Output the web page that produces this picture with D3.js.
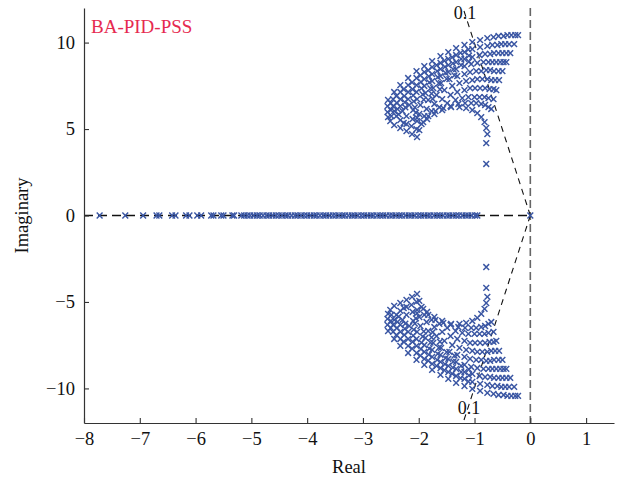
<!DOCTYPE html>
<html>
<head>
<meta charset="utf-8">
<script src="https://cdn.jsdelivr.net/npm/d3@7"></script>
<style>
  html, body { margin: 0; padding: 0; background: #ffffff; }
  svg { display: block; }
  text { font-family: "Liberation Serif", "DejaVu Serif", serif; }
</style>
</head>
<body>
<svg id="chart" width="626" height="483"></svg>
<script>
// ---------------- data ----------------
const title = "BA-PID-PSS";
const xLabel = "Real";
const yLabel = "Imaginary";
const xTicks = [-8, -7, -6, -5, -4, -3, -2, -1, 0, 1];
const yTicks = [-10, -5, 0, 5, 10];
const xDomain = [-8, 1.5];
const yDomain = [-12, 12];
const dampingRatio = 0.1;
const dampingLabel = "0.1";

// Real eigenvalues (imaginary part = 0)
const realPolesSparse = [-7.72, -7.26, -6.94, -6.70, -6.65, -6.42, -6.36, -6.17, -6.11,
  -5.97, -5.90, -5.72, -5.68, -5.54, -5.50, -5.34, -5.31];
const realPolesDense = [-5.18, -5.13, -5.07, -5.02, -4.96, -4.90, -4.85, -4.79, -4.73, -4.68,
  -4.62, -4.56, -4.51, -4.45, -4.39, -4.34, -4.28, -4.22, -4.17, -4.11, -4.05, -4.00, -3.94,
  -3.88, -3.83, -3.77, -3.71, -3.66, -3.60, -3.54, -3.49, -3.43, -3.37, -3.32, -3.26, -3.20,
  -3.15, -3.09, -3.03, -2.98, -2.92, -2.86, -2.81, -2.75, -2.69, -2.64, -2.58, -2.52, -2.47,
  -2.41, -2.35, -2.30, -2.24, -2.18, -2.13, -2.07, -2.01, -1.96, -1.90, -1.84, -1.79, -1.73,
  -1.67, -1.62, -1.56, -1.50, -1.45, -1.39, -1.33, -1.28, -1.22, -1.16, -1.11, -1.05, -0.99, -0.95];
const originPoles = [0];

// Complex eigenvalues, upper half-plane [re, im]; the lower half are their conjugates
const arc0 = [[-2.55,6.68],[-2.44,7.14],[-2.33,7.54],[-2.19,7.95],[-2.04,8.35],[-1.90,8.64],[-1.76,8.93],[-1.61,9.22],[-1.47,9.45],[-1.33,9.68],[-1.18,9.86],[-1.04,10.03],[-0.90,10.14],[-0.77,10.26],[-0.66,10.32],[-0.57,10.38],[-0.48,10.38],[-0.41,10.43],[-0.34,10.43],[-0.27,10.43],[-0.22,10.43]];
const arc1 = [[-2.56,6.33],[-2.46,6.73],[-2.33,7.14],[-2.19,7.54],[-2.04,7.95],[-1.90,8.29],[-1.76,8.58],[-1.61,8.82],[-1.47,9.05],[-1.33,9.28],[-1.18,9.45],[-1.04,9.62],[-0.90,9.74],[-0.77,9.80],[-0.68,9.86],[-0.59,9.86],[-0.52,9.91],[-0.45,9.91],[-0.38,9.91],[-0.29,9.91]];
const arc2 = [[-2.56,5.98],[-2.46,6.33],[-2.33,6.73],[-2.19,7.14],[-2.04,7.54],[-1.90,7.89],[-1.76,8.18],[-1.61,8.47],[-1.47,8.70],[-1.33,8.87],[-1.18,9.05],[-1.04,9.16],[-0.91,9.28],[-0.81,9.34],[-0.72,9.34],[-0.65,9.39],[-0.57,9.39],[-0.50,9.39],[-0.43,9.39],[-0.36,9.39]];
const arc3 = [[-2.55,5.69],[-2.44,6.04],[-2.33,6.33],[-2.19,6.73],[-2.04,7.14],[-1.90,7.49],[-1.76,7.77],[-1.61,8.06],[-1.47,8.29],[-1.33,8.47],[-1.18,8.64],[-1.06,8.76],[-0.95,8.82],[-0.84,8.87],[-0.75,8.87],[-0.68,8.87],[-0.61,8.87],[-0.54,8.87],[-0.48,8.87],[-0.43,8.87]];
const arc4 = [[-2.51,5.46],[-2.40,5.75],[-2.29,6.04],[-2.17,6.39],[-2.03,6.73],[-1.88,7.08],[-1.74,7.37],[-1.60,7.66],[-1.45,7.89],[-1.31,8.06],[-1.18,8.18],[-1.08,8.29],[-0.97,8.35],[-0.88,8.35],[-0.79,8.41],[-0.72,8.41],[-0.65,8.35],[-0.57,8.35],[-0.50,8.35]];
const arc5 = [[-2.44,5.23],[-2.33,5.52],[-2.22,5.75],[-2.10,6.10],[-1.97,6.39],[-1.83,6.68],[-1.68,6.97],[-1.54,7.25],[-1.40,7.49],[-1.27,7.66],[-1.15,7.77],[-1.04,7.83],[-0.95,7.89],[-0.86,7.89],[-0.77,7.89],[-0.70,7.83],[-0.63,7.83],[-0.56,7.83]];
const arc6 = [[-2.33,5.06],[-2.22,5.29],[-2.11,5.58],[-1.99,5.87],[-1.86,6.16],[-1.72,6.45],[-1.58,6.73],[-1.43,6.97],[-1.31,7.14],[-1.18,7.25],[-1.08,7.37],[-0.99,7.37],[-0.90,7.37],[-0.81,7.37],[-0.73,7.31],[-0.66,7.31],[-0.61,7.25]];
const arc7 = [[-2.22,4.88],[-2.13,5.17],[-2.03,5.46],[-1.90,5.75],[-1.77,6.04],[-1.63,6.27],[-1.49,6.50],[-1.34,6.68],[-1.22,6.79],[-1.11,6.85],[-1.00,6.85],[-0.91,6.85],[-0.82,6.85],[-0.75,6.79],[-0.66,6.73]];
const arc8 = [[-2.12,4.71],[-2.04,5.00],[-1.95,5.29],[-1.85,5.58],[-1.72,5.87],[-1.58,6.10],[-1.43,6.33],[-1.29,6.45],[-1.17,6.50],[-1.06,6.50],[-0.97,6.50],[-0.88,6.45],[-0.81,6.39],[-0.75,6.27],[-0.70,6.16]];
const arc9 = [[-2.03,4.54],[-1.99,4.94],[-1.92,5.40],[-1.83,5.75],[-1.70,6.04],[-1.56,6.21],[-1.42,6.27],[-1.27,6.27],[-1.15,6.21],[-1.04,6.10],[-0.95,5.92],[-0.88,5.69],[-0.82,5.40],[-0.79,5.06],[-0.77,4.71],[-0.79,4.19],[-0.79,2.98]];
// extra scattered eigenvalues filling the lattice on the left side of the cluster
const fill0 = [[-2.50,6.50],[-2.50,6.10],[-2.49,5.75],[-2.40,6.90],[-2.39,6.50],[-2.38,6.15],[-2.36,5.85],[-2.27,7.30],[-2.26,6.90],[-2.25,6.55],[-2.24,6.25],[-2.27,5.35],[-2.12,7.70],[-2.11,7.30],[-2.10,6.95],[-2.09,6.60],[-2.07,6.25],[-2.05,5.95],[-2.03,5.65],[-1.97,8.10],[-1.96,7.72],[-1.95,7.35],[-1.93,7.00],[-1.91,6.70],[-1.83,8.40],[-1.82,8.05],[-1.81,7.70],[-1.79,7.35],[-1.77,7.05],[-1.75,6.75],[-1.68,8.70],[-1.67,8.35],[-1.66,8.00],[-1.64,7.65],[-1.62,7.30],[-1.54,8.95],[-1.53,8.60],[-1.52,8.25],[-1.50,7.90],[-1.40,9.15],[-1.39,8.80],[-1.38,8.45],[-1.36,8.10],[-1.25,9.40],[-1.24,9.05],[-1.24,8.70],[-1.11,9.60],[-1.10,9.25],[-1.10,8.90]];

// ---------------- build ----------------
const upper = [].concat(arc0, arc1, arc2, arc3, arc4, arc5, arc6, arc7, arc8, arc9, fill0);
const complexPoles = upper.concat(upper.map(d => [d[0], -d[1]]));
const realPoles = realPolesSparse.concat(realPolesDense, originPoles).map(v => [v, 0]);
const allPoles = realPoles.concat(complexPoles);

const svg = d3.select("#chart");
const margin = { left: 84, right: 12, top: 8, bottom: 60 };
const W = 626, H = 483;
const x = d3.scaleLinear().domain(xDomain).range([margin.left, W - margin.right]);
const y = d3.scaleLinear().domain(yDomain).range([H - margin.bottom, margin.top]);

const fmt = d => (d < 0 ? "\u2212" + Math.abs(d) : String(d));

// reference lines
const gLines = svg.append("g");
gLines.append("line")
  .attr("x1", x(0)).attr("x2", x(0))
  .attr("y1", y(yDomain[1])).attr("y2", y(yDomain[0]))
  .attr("stroke", "#666").attr("stroke-width", 1.6).attr("stroke-dasharray", "8,4");
gLines.append("line")
  .attr("x1", x(xDomain[0])).attr("x2", x(0))
  .attr("y1", y(0)).attr("y2", y(0))
  .attr("stroke", "#111").attr("stroke-width", 1.7).attr("stroke-dasharray", "9,5");
const slope = dampingRatio / Math.sqrt(1 - dampingRatio * dampingRatio);
[1, -1].forEach(s => {
  gLines.append("line")
    .attr("x1", x(0)).attr("y1", y(0))
    .attr("x2", x(-slope * yDomain[1])).attr("y2", y(s * yDomain[1]))
    .attr("stroke", "#111").attr("stroke-width", 1.1).attr("stroke-dasharray", "6,5");
});

// axes
const xAxis = d3.axisBottom(x).tickValues(xTicks).tickFormat(fmt)
  .tickSizeInner(-5).tickSizeOuter(0).tickPadding(9);
const yAxis = d3.axisLeft(y).tickValues(yTicks).tickFormat(fmt)
  .tickSizeInner(-5).tickSizeOuter(0).tickPadding(9);

const gx = svg.append("g").attr("transform", `translate(0,${y(yDomain[0])})`).call(xAxis);
const gy = svg.append("g").attr("transform", `translate(${x(xDomain[0])},0)`).call(yAxis);
[gx, gy].forEach(g => {
  g.select(".domain").attr("stroke", "#333").attr("stroke-width", 1.2);
  g.selectAll(".tick line").attr("stroke", "#333").attr("stroke-width", 1.1);
  g.selectAll(".tick text").attr("fill", "#111")
    .style("font-family", '"Liberation Serif", serif').style("font-size", "18.5px");
});

// markers
const ms = 2.9;
svg.append("g").selectAll("path").data(allPoles).join("path")
  .attr("d", d => {
    const cx = x(d[0]), cy = y(d[1]);
    return `M${cx - ms},${cy - ms}L${cx + ms},${cy + ms}M${cx - ms},${cy + ms}L${cx + ms},${cy - ms}`;
  })
  .attr("stroke", "#3a56a3").attr("stroke-width", 1.45).attr("fill", "none");

// damping labels
svg.append("text").attr("x", x(-slope * yDomain[1]) + 2).attr("y", 19)
  .attr("text-anchor", "middle").style("font-size", "18px").attr("fill", "#111").text(dampingLabel);
svg.append("text").attr("x", x(-slope * yDomain[1]) + 6).attr("y", 414)
  .attr("text-anchor", "middle").style("font-size", "18px").attr("fill", "#111").text(dampingLabel);

// titles
svg.append("text").attr("x", 91).attr("y", 33)
  .style("font-size", "19px").attr("fill", "#e62a50").text(title);
svg.append("text").attr("x", (x(xDomain[0]) + x(xDomain[1])) / 2).attr("y", 473)
  .attr("text-anchor", "middle").style("font-size", "18.5px").attr("fill", "#111").text(xLabel);
svg.append("text")
  .attr("transform", `translate(28,${(y(yDomain[0]) + y(yDomain[1])) / 2}) rotate(-90)`)
  .attr("text-anchor", "middle").style("font-size", "18.5px").attr("fill", "#111").text(yLabel);
</script>
</body>
</html>
